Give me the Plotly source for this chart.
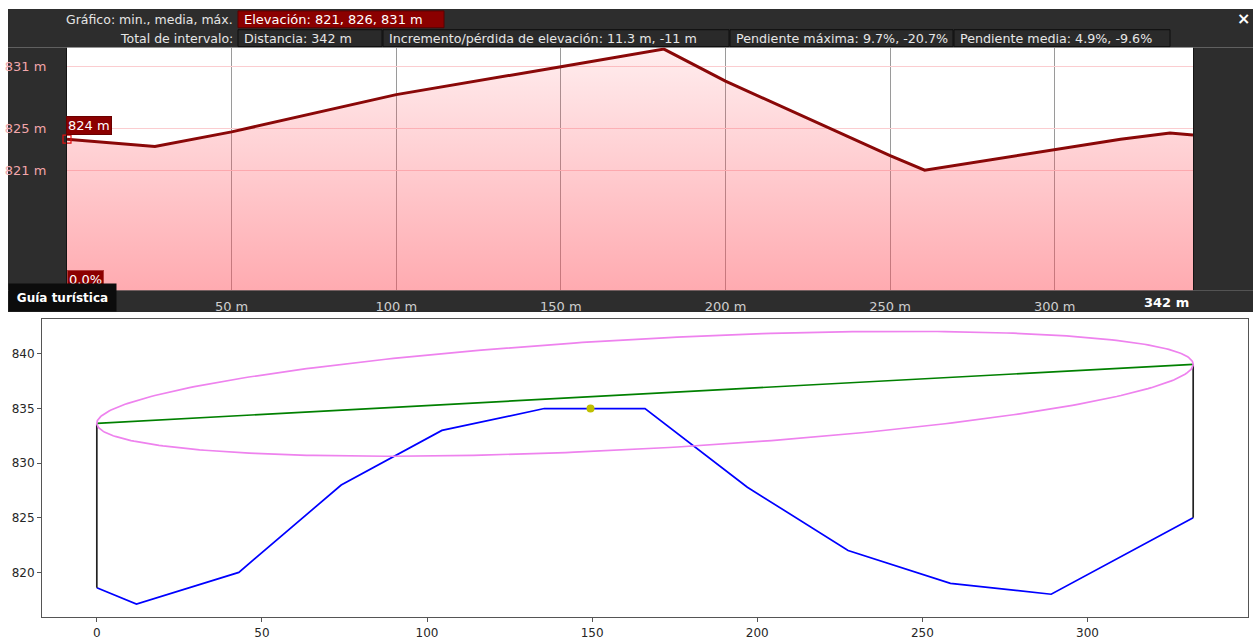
import numpy as np
import plotly.graph_objects as go

W, H = 1253, 640
FONT = "DejaVu Sans"

# ---------------- upper panel: elevation profile ----------------
profile_dist = [0, 26.7, 50, 100, 150, 181.3, 200, 250, 260.5, 300, 320, 335, 342]
profile_elev = [824.0, 823.3, 824.7, 828.3, 831.0, 832.7, 829.6, 822.4, 821.0, 823.0, 824.0, 824.6, 824.4]
profile_total = 342
dist_ticks = [50, 100, 150, 200, 250, 300]
elev_ticks = [821, 825, 831]
elev_range = [809.4, 832.85]
cursor_elev = "824 m"
cursor_slope = "0.0%"

header_left_1 = "Gráfico: min., media, máx."
header_left_2 = "Total de intervalo:"
elev_summary = "Elevación: 821, 826, 831 m"
interval_stats = [
    "Distancia: 342 m",
    "Incremento/pérdida de elevación: 11.3 m, -11 m",
    "Pendiente máxima: 9.7%, -20.7%",
    "Pendiente media: 4.9%, -9.6%",
]
guide_label = "Guía turística"

# ---------------- lower panel: route, chord and envelope ----------------
route_x = [0, 12, 43, 74, 104.5, 135.5, 166, 197, 227.5, 258.5, 289, 332]
route_y = [818.6, 817.1, 820.0, 828.0, 833.0, 835.0, 835.0, 827.8, 822.0, 819.0, 818.0, 825.0]
chord_x = [0, 332]
chord_y = [833.65, 839.05]
point_x = [149.5]
point_y = [835.0]
ellipse_minor = 5.04
lower_xticks = [0, 50, 100, 150, 200, 250, 300]
lower_yticks = [820, 825, 830, 835, 840]


def px(x):
    return x / W


def py(y):
    return 1 - y / H


fig = go.Figure()

# profile with a vertical pink gradient underneath
fig.add_trace(go.Scatter(
    x=profile_dist, y=profile_elev, mode="lines",
    line=dict(color="#8a0808", width=3),
    fill="tozeroy",
    fillgradient=dict(
        type="vertical", start=elev_range[0], stop=elev_range[1],
        colorscale=[[0, "rgba(255,78,90,0.48)"], [1, "rgba(255,78,90,0.10)"]],
    ),
    xaxis="x", yaxis="y", hoverinfo="skip", showlegend=False,
))
# cursor marker at the start of the profile
fig.add_trace(go.Scatter(
    x=[profile_dist[0]], y=[profile_elev[0]], mode="markers",
    marker=dict(symbol="square-open", size=8, color="#e01010", line=dict(width=1.2)),
    xaxis="x", yaxis="y", cliponaxis=False, hoverinfo="skip", showlegend=False,
))

# lower panel traces
fig.add_trace(go.Scatter(
    x=route_x, y=route_y, mode="lines", line=dict(color="#0000ff", width=1.7),
    xaxis="x2", yaxis="y2", hoverinfo="skip", showlegend=False,
))
fig.add_trace(go.Scatter(
    x=[route_x[0], chord_x[0]], y=[route_y[0], chord_y[0]], mode="lines",
    line=dict(color="#222222", width=1.7),
    xaxis="x2", yaxis="y2", hoverinfo="skip", showlegend=False,
))
fig.add_trace(go.Scatter(
    x=[route_x[-1], chord_x[1]], y=[route_y[-1], chord_y[1]], mode="lines",
    line=dict(color="#222222", width=1.7),
    xaxis="x2", yaxis="y2", hoverinfo="skip", showlegend=False,
))
fig.add_trace(go.Scatter(
    x=chord_x, y=chord_y, mode="lines", line=dict(color="#008000", width=1.7),
    xaxis="x2", yaxis="y2", hoverinfo="skip", showlegend=False,
))

# ellipse whose major axis is the chord
cx, cy = np.mean(chord_x), np.mean(chord_y)
dx, dy = chord_x[1] - chord_x[0], chord_y[1] - chord_y[0]
major = np.hypot(dx, dy) / 2
theta = np.arctan2(dy, dx)
t = np.linspace(0, 2 * np.pi, 400)
ex = cx + major * np.cos(t) * np.cos(theta) - ellipse_minor * np.sin(t) * np.sin(theta)
ey = cy + major * np.cos(t) * np.sin(theta) + ellipse_minor * np.sin(t) * np.cos(theta)
fig.add_trace(go.Scatter(
    x=ex, y=ey, mode="lines", line=dict(color="#ee82ee", width=1.7),
    xaxis="x2", yaxis="y2", hoverinfo="skip", showlegend=False,
))
fig.add_trace(go.Scatter(
    x=point_x, y=point_y, mode="markers", marker=dict(color="#bfbf00", size=8),
    xaxis="x2", yaxis="y2", hoverinfo="skip", showlegend=False,
))

# dark frame of the profile widget, built around the (white) plot area
DARK = "#2d2d2d"
frame = [
    (8, 1253, 9, 48),      # header strip
    (8, 1253, 293, 315),   # distance labels strip
    (8, 67, 48, 293),      # elevation labels strip
    (1193, 1253, 48, 293), # right margin
]
shapes = [
    dict(type="rect", xref="paper", yref="paper", x0=px(a), x1=px(b), y0=py(d), y1=py(c),
         fillcolor=DARK, line=dict(width=0), layer="below")
    for a, b, c, d in frame
]
# elevation summary box
shapes.append(dict(type="rect", xref="paper", yref="paper", x0=px(238), x1=px(444),
                   y0=py(28), y1=py(11), fillcolor="#8b0000", line=dict(color="#5a0000", width=1)))

box_edges = [238, 383, 730, 954, 1171]
for i in range(len(interval_stats)):
    shapes.append(dict(type="rect", xref="paper", yref="paper",
                       x0=px(box_edges[i]), x1=px(box_edges[i + 1] - 1), y0=py(47), y1=py(30),
                       fillcolor="#2a2a2a", line=dict(color="#0e0e0e", width=1)))

hdr_font = dict(family=FONT, size=12.5, color="#e6e6e6")
box_font = dict(family=FONT, size=12.7, color="#e6e6e6")
annotations = [
    dict(text=header_left_1, xref="paper", yref="paper", x=px(235), y=py(19.5),
         xanchor="right", yanchor="middle", showarrow=False, font=hdr_font),
    dict(text=header_left_2, xref="paper", yref="paper", x=px(235), y=py(38.5),
         xanchor="right", yanchor="middle", showarrow=False, font=hdr_font),
    dict(text=elev_summary, xref="paper", yref="paper", x=px(242), y=py(19.5),
         xanchor="left", yanchor="middle", showarrow=False,
         font=dict(family=FONT, size=13, color="#ffffff")),
    dict(text="<b>×</b>", xref="paper", yref="paper", x=px(1243), y=py(19),
         xanchor="center", yanchor="middle", showarrow=False,
         font=dict(family=FONT, size=16, color="#ffffff")),
    dict(text=f"<b>{profile_total} m</b>", xref="paper", yref="paper", x=px(1191), y=py(305),
         xanchor="right", yanchor="middle", showarrow=False,
         font=dict(family=FONT, size=13, color="#ffffff")),
    # cursor readouts
    dict(text=cursor_elev, xref="x", yref="y", x=profile_dist[0], y=profile_elev[0],
         xanchor="left", yanchor="bottom", xshift=-1, yshift=4, showarrow=False,
         bgcolor="#8b0000", bordercolor="#6a0000", borderwidth=1, borderpad=1,
         font=dict(family=FONT, size=13, color="#ffffff")),
    dict(text=cursor_slope, xref="paper", yref="paper", x=px(67), y=py(292),
         xanchor="left", yanchor="bottom", showarrow=False,
         bgcolor="#8b0000", bordercolor="#b03a3a", borderwidth=1, borderpad=1,
         font=dict(family=FONT, size=13, color="#ffffff")),
    dict(text=f"<b>{guide_label}</b>", xref="paper", yref="paper", x=px(8), y=py(315),
         xanchor="left", yanchor="bottom", showarrow=False, width=103, height=23,
         bgcolor="#0c0c0c", borderpad=2, align="center",
         font=dict(family=FONT, size=12, color="#ffffff")),
]
for i, label in enumerate(interval_stats):
    annotations.append(dict(text=label, xref="paper", yref="paper", x=px(box_edges[i] + 4),
                            y=py(38.5), xanchor="left", yanchor="middle", showarrow=False,
                            font=box_font))

fig.update_layout(
    width=W, height=H,
    margin=dict(l=0, r=0, t=0, b=0),
    paper_bgcolor="#ffffff", plot_bgcolor="#ffffff",
    showlegend=False,
    shapes=shapes, annotations=annotations,
    xaxis=dict(
        domain=[px(67), px(1193)], range=[0, profile_total], anchor="y",
        tickvals=dist_ticks, ticktext=[f"{v} m" for v in dist_ticks],
        tickfont=dict(family=FONT, size=13, color="#cfcfcf"),
        ticks="outside", ticklen=4, tickcolor="rgba(0,0,0,0)",
        showgrid=True, gridcolor="#9a9a9a", gridwidth=1, zeroline=False, showline=False,
    ),
    yaxis=dict(
        domain=[py(293), py(48)], range=elev_range, anchor="x",
        tickvals=elev_ticks, ticktext=[f"{v} m" for v in elev_ticks],
        tickfont=dict(family=FONT, size=13, color="#f2a6ab"),
        ticks="outside", ticklen=17, tickcolor="rgba(0,0,0,0)",
        showgrid=True, gridcolor="#fbcdd0", gridwidth=1, zeroline=False,
        showline=True, mirror=True, linecolor="#141414", linewidth=1,
    ),
    xaxis2=dict(
        domain=[px(42), px(1248)], range=[-16.6, 348.6], anchor="y2",
        tickvals=lower_xticks, tickfont=dict(family=FONT, size=12, color="#262626"),
        ticks="outside", ticklen=4, tickcolor="#555555",
        showgrid=False, zeroline=False,
        showline=True, mirror=True, linecolor="#555555", linewidth=1,
    ),
    yaxis2=dict(
        domain=[py(623), py(322)], range=[815.9, 843.2], anchor="x2",
        tickvals=lower_yticks, tickfont=dict(family=FONT, size=12, color="#262626"),
        ticks="outside", ticklen=4, tickcolor="#555555",
        showgrid=False, zeroline=False,
        showline=True, mirror=True, linecolor="#555555", linewidth=1,
    ),
)

fig.write_html("out.html")
